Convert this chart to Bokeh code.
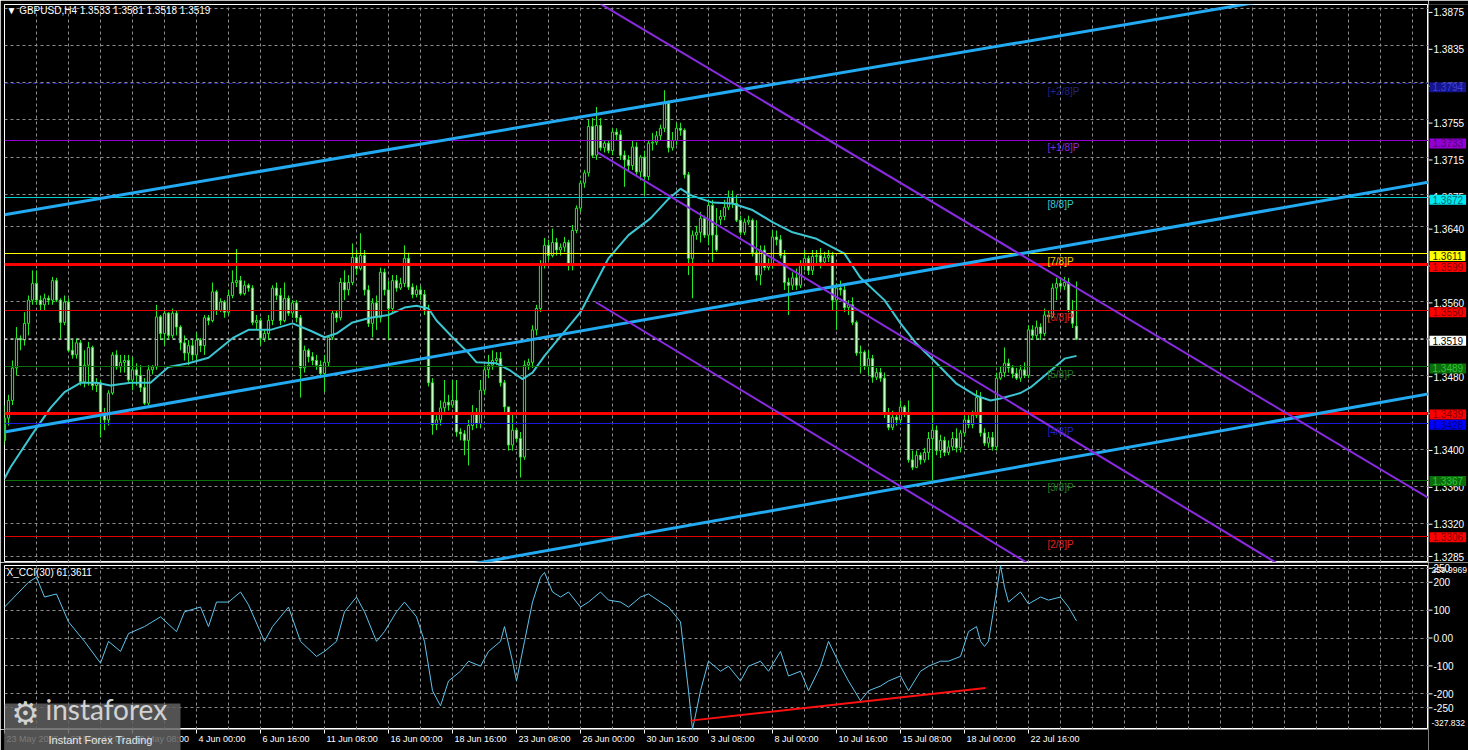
from bokeh.plotting import figure
from bokeh.layouts import column, row
from bokeh.models import Range1d, FixedTicker, Label, ColumnDataSource, Grid, BoxAnnotation
from bokeh.embed import file_html
from bokeh.resources import INLINE
from bokeh.core.properties import value

# ---------------- data ----------------
symbol_title = "\u25bc GBPUSD,H4  1.3533 1.3581 1.3518 1.3519"
cci_title = "X_CCI(30) 61.3611"

opens = [
 1.3410, 1.3434, 1.3453, 1.3488, 1.3520, 1.3518, 1.3536, 1.3561, 1.3579, 1.3561,
 1.3556, 1.3563, 1.3561, 1.3582, 1.3561, 1.3537, 1.3559, 1.3507, 1.3502, 1.3515,
 1.3473, 1.3491, 1.3510, 1.3469, 1.3472, 1.3439, 1.3432, 1.3461, 1.3502, 1.3489,
 1.3494, 1.3496, 1.3475, 1.3486, 1.3480, 1.3467, 1.3450, 1.3486, 1.3489, 1.3543,
 1.3525, 1.3547, 1.3523, 1.3547, 1.3532, 1.3515, 1.3504, 1.3512, 1.3502, 1.3518,
 1.3512, 1.3542, 1.3539, 1.3570, 1.3550, 1.3559, 1.3548, 1.3566, 1.3580, 1.3582,
 1.3568, 1.3577, 1.3574, 1.3537, 1.3539, 1.3520, 1.3525, 1.3539, 1.3574, 1.3566,
 1.3539, 1.3563, 1.3547, 1.3558, 1.3542, 1.3488, 1.3507, 1.3500, 1.3496, 1.3491,
 1.3482, 1.3494, 1.3521, 1.3547, 1.3542, 1.3580, 1.3572, 1.3580, 1.3607, 1.3595,
 1.3609, 1.3572, 1.3536, 1.3558, 1.3542, 1.3591, 1.3572, 1.3552, 1.3582, 1.3574,
 1.3579, 1.3606, 1.3575, 1.3567, 1.3572, 1.3567, 1.3550, 1.3472, 1.3427, 1.3432,
 1.3445, 1.3451, 1.3448, 1.3453, 1.3419, 1.3417, 1.3410, 1.3426, 1.3440, 1.3428,
 1.3464, 1.3486, 1.3491, 1.3496, 1.3498, 1.3472, 1.3446, 1.3405, 1.3421, 1.3412,
 1.3392, 1.3491, 1.3494, 1.3529, 1.3552, 1.3599, 1.3620, 1.3609, 1.3623, 1.3615,
 1.3618, 1.3623, 1.3598, 1.3636, 1.3660, 1.3687, 1.3698, 1.3748, 1.3717, 1.3749,
 1.3725, 1.3730, 1.3722, 1.3742, 1.3739, 1.3717, 1.3712, 1.3706, 1.3726, 1.3699,
 1.3715, 1.3694, 1.3730, 1.3731, 1.3738, 1.3746, 1.3773, 1.3725, 1.3733, 1.3746,
 1.3744, 1.3696, 1.3606, 1.3631, 1.3634, 1.3649, 1.3631, 1.3663, 1.3631, 1.3648,
 1.3651, 1.3661, 1.3672, 1.3665, 1.3647, 1.3634, 1.3645, 1.3647, 1.3612, 1.3588,
 1.3615, 1.3596, 1.3599, 1.3629, 1.3626, 1.3609, 1.3580, 1.3577, 1.3585, 1.3577,
 1.3599, 1.3606, 1.3593, 1.3608, 1.3609, 1.3602, 1.3607, 1.3609, 1.3561, 1.3574,
 1.3572, 1.3553, 1.3556, 1.3537, 1.3504, 1.3505, 1.3490, 1.3498, 1.3478, 1.3483,
 1.3477, 1.3439, 1.3424, 1.3435, 1.3432, 1.3446, 1.3440, 1.3389, 1.3381, 1.3394,
 1.3389, 1.3397, 1.3412, 1.3421, 1.3399, 1.3410, 1.3397, 1.3403, 1.3412, 1.3402,
 1.3418, 1.3432, 1.3427, 1.3437, 1.3456, 1.3418, 1.3407, 1.3413, 1.3403, 1.3477,
 1.3483, 1.3493, 1.3488, 1.3482, 1.3477, 1.3486, 1.3480, 1.3529, 1.3523, 1.3532,
 1.3525, 1.3545, 1.3543, 1.3574, 1.3579, 1.3576, 1.3580, 1.3550, 1.3533]

closes = [
 1.3434, 1.3453, 1.3488, 1.3520, 1.3518, 1.3536, 1.3561, 1.3579, 1.3561, 1.3556,
 1.3563, 1.3561, 1.3582, 1.3561, 1.3537, 1.3559, 1.3507, 1.3502, 1.3515, 1.3473,
 1.3491, 1.3510, 1.3469, 1.3472, 1.3439, 1.3432, 1.3461, 1.3502, 1.3489, 1.3494,
 1.3496, 1.3475, 1.3486, 1.3480, 1.3467, 1.3450, 1.3486, 1.3489, 1.3543, 1.3525,
 1.3547, 1.3523, 1.3547, 1.3532, 1.3515, 1.3504, 1.3512, 1.3502, 1.3518, 1.3512,
 1.3542, 1.3539, 1.3570, 1.3550, 1.3559, 1.3548, 1.3566, 1.3580, 1.3582, 1.3568,
 1.3577, 1.3574, 1.3537, 1.3539, 1.3520, 1.3525, 1.3539, 1.3574, 1.3566, 1.3539,
 1.3563, 1.3547, 1.3558, 1.3542, 1.3488, 1.3507, 1.3500, 1.3496, 1.3491, 1.3482,
 1.3494, 1.3521, 1.3547, 1.3542, 1.3580, 1.3572, 1.3580, 1.3607, 1.3595, 1.3609,
 1.3572, 1.3536, 1.3558, 1.3542, 1.3591, 1.3572, 1.3552, 1.3582, 1.3574, 1.3579,
 1.3606, 1.3575, 1.3567, 1.3572, 1.3567, 1.3550, 1.3472, 1.3427, 1.3432, 1.3445,
 1.3451, 1.3448, 1.3453, 1.3419, 1.3417, 1.3410, 1.3426, 1.3440, 1.3428, 1.3464,
 1.3486, 1.3491, 1.3496, 1.3498, 1.3472, 1.3446, 1.3405, 1.3421, 1.3412, 1.3392,
 1.3491, 1.3494, 1.3529, 1.3552, 1.3599, 1.3620, 1.3609, 1.3623, 1.3615, 1.3618,
 1.3623, 1.3598, 1.3636, 1.3660, 1.3687, 1.3698, 1.3748, 1.3717, 1.3749, 1.3725,
 1.3730, 1.3722, 1.3742, 1.3739, 1.3717, 1.3712, 1.3706, 1.3726, 1.3699, 1.3715,
 1.3694, 1.3730, 1.3731, 1.3738, 1.3746, 1.3773, 1.3725, 1.3733, 1.3746, 1.3744,
 1.3696, 1.3606, 1.3631, 1.3634, 1.3649, 1.3631, 1.3663, 1.3631, 1.3615, 1.3651,
 1.3661, 1.3672, 1.3665, 1.3647, 1.3634, 1.3645, 1.3647, 1.3612, 1.3588, 1.3615,
 1.3596, 1.3599, 1.3629, 1.3626, 1.3609, 1.3580, 1.3577, 1.3585, 1.3577, 1.3599,
 1.3606, 1.3593, 1.3608, 1.3609, 1.3602, 1.3607, 1.3609, 1.3561, 1.3574, 1.3572,
 1.3553, 1.3556, 1.3537, 1.3504, 1.3505, 1.3490, 1.3498, 1.3478, 1.3483, 1.3477,
 1.3439, 1.3424, 1.3435, 1.3432, 1.3446, 1.3440, 1.3389, 1.3381, 1.3394, 1.3389,
 1.3397, 1.3412, 1.3421, 1.3399, 1.3410, 1.3397, 1.3403, 1.3412, 1.3402, 1.3418,
 1.3432, 1.3427, 1.3437, 1.3456, 1.3418, 1.3407, 1.3413, 1.3403, 1.3477, 1.3483,
 1.3493, 1.3488, 1.3482, 1.3477, 1.3486, 1.3480, 1.3529, 1.3523, 1.3532, 1.3525,
 1.3545, 1.3543, 1.3574, 1.3579, 1.3576, 1.3580, 1.3550, 1.3536, 1.3519]

highs = [
 1.3448, 1.3459, 1.3496, 1.3532, 1.3523, 1.3548, 1.3566, 1.3593, 1.3593, 1.3566,
 1.3568, 1.3566, 1.3586, 1.3585, 1.3563, 1.3566, 1.3563, 1.3518, 1.3520, 1.3518,
 1.3507, 1.3516, 1.3512, 1.3477, 1.3475, 1.3445, 1.3464, 1.3505, 1.3507, 1.3502,
 1.3502, 1.3502, 1.3500, 1.3493, 1.3491, 1.3477, 1.3491, 1.3491, 1.3556, 1.3545,
 1.3550, 1.3548, 1.3552, 1.3550, 1.3534, 1.3523, 1.3518, 1.3518, 1.3526, 1.3520,
 1.3545, 1.3545, 1.3580, 1.3572, 1.3563, 1.3561, 1.3572, 1.3593, 1.3616, 1.3587,
 1.3582, 1.3579, 1.3577, 1.3545, 1.3542, 1.3529, 1.3545, 1.3577, 1.3580, 1.3574,
 1.3580, 1.3566, 1.3561, 1.3561, 1.3545, 1.3512, 1.3509, 1.3505, 1.3502, 1.3496,
 1.3502, 1.3523, 1.3550, 1.3550, 1.3585, 1.3593, 1.3588, 1.3622, 1.3615, 1.3633,
 1.3615, 1.3577, 1.3563, 1.3566, 1.3596, 1.3595, 1.3582, 1.3588, 1.3588, 1.3585,
 1.3620, 1.3612, 1.3579, 1.3577, 1.3576, 1.3572, 1.3556, 1.3477, 1.3437, 1.3453,
 1.3475, 1.3459, 1.3475, 1.3475, 1.3423, 1.3421, 1.3432, 1.3448, 1.3445, 1.3475,
 1.3491, 1.3502, 1.3507, 1.3505, 1.3505, 1.3475, 1.3439, 1.3439, 1.3423, 1.3419,
 1.3496, 1.3498, 1.3534, 1.3556, 1.3604, 1.3628, 1.3626, 1.3638, 1.3628, 1.3622,
 1.3629, 1.3626, 1.3642, 1.3663, 1.3690, 1.3701, 1.3755, 1.3757, 1.3769, 1.3757,
 1.3733, 1.3733, 1.3746, 1.3746, 1.3744, 1.3722, 1.3717, 1.3733, 1.3731, 1.3717,
 1.3722, 1.3733, 1.3741, 1.3743, 1.3750, 1.3787, 1.3776, 1.3742, 1.3752, 1.3752,
 1.3746, 1.3699, 1.3636, 1.3641, 1.3656, 1.3652, 1.3669, 1.3669, 1.3660, 1.3658,
 1.3669, 1.3679, 1.3679, 1.3674, 1.3652, 1.3649, 1.3652, 1.3649, 1.3647, 1.3620,
 1.3620, 1.3606, 1.3636, 1.3636, 1.3631, 1.3615, 1.3585, 1.3591, 1.3595, 1.3604,
 1.3615, 1.3609, 1.3615, 1.3615, 1.3617, 1.3613, 1.3615, 1.3613, 1.3579, 1.3582,
 1.3577, 1.3561, 1.3564, 1.3539, 1.3512, 1.3507, 1.3507, 1.3502, 1.3488, 1.3488,
 1.3483, 1.3445, 1.3442, 1.3440, 1.3453, 1.3448, 1.3453, 1.3399, 1.3399, 1.3397,
 1.3402, 1.3419, 1.3488, 1.3426, 1.3416, 1.3414, 1.3410, 1.3419, 1.3423, 1.3421,
 1.3437, 1.3437, 1.3442, 1.3464, 1.3462, 1.3423, 1.3419, 1.3419, 1.3483, 1.3489,
 1.3510, 1.3498, 1.3491, 1.3488, 1.3491, 1.3494, 1.3534, 1.3534, 1.3539, 1.3536,
 1.3552, 1.3550, 1.3579, 1.3585, 1.3586, 1.3586, 1.3585, 1.3561, 1.3581]

lows = [
 1.3405, 1.3426, 1.3448, 1.3480, 1.3507, 1.3512, 1.3523, 1.3556, 1.3556, 1.3550,
 1.3550, 1.3556, 1.3556, 1.3559, 1.3520, 1.3534, 1.3505, 1.3498, 1.3498, 1.3469,
 1.3467, 1.3469, 1.3464, 1.3462, 1.3413, 1.3421, 1.3426, 1.3459, 1.3486, 1.3483,
 1.3483, 1.3473, 1.3464, 1.3469, 1.3462, 1.3448, 1.3448, 1.3481, 1.3486, 1.3518,
 1.3512, 1.3518, 1.3520, 1.3523, 1.3507, 1.3496, 1.3491, 1.3496, 1.3496, 1.3505,
 1.3502, 1.3534, 1.3537, 1.3545, 1.3548, 1.3542, 1.3545, 1.3563, 1.3575, 1.3566,
 1.3566, 1.3570, 1.3534, 1.3529, 1.3512, 1.3516, 1.3518, 1.3534, 1.3561, 1.3534,
 1.3537, 1.3544, 1.3542, 1.3537, 1.3456, 1.3483, 1.3494, 1.3491, 1.3486, 1.3477,
 1.3462, 1.3489, 1.3518, 1.3537, 1.3539, 1.3561, 1.3566, 1.3577, 1.3588, 1.3593,
 1.3566, 1.3532, 1.3521, 1.3529, 1.3537, 1.3566, 1.3518, 1.3548, 1.3570, 1.3572,
 1.3575, 1.3572, 1.3563, 1.3564, 1.3561, 1.3545, 1.3468, 1.3416, 1.3421, 1.3426,
 1.3440, 1.3442, 1.3445, 1.3414, 1.3410, 1.3394, 1.3383, 1.3421, 1.3423, 1.3423,
 1.3459, 1.3477, 1.3486, 1.3491, 1.3468, 1.3440, 1.3399, 1.3399, 1.3408, 1.3370,
 1.3389, 1.3486, 1.3488, 1.3523, 1.3548, 1.3595, 1.3604, 1.3607, 1.3609, 1.3609,
 1.3613, 1.3593, 1.3593, 1.3633, 1.3656, 1.3682, 1.3694, 1.3714, 1.3712, 1.3722,
 1.3720, 1.3719, 1.3717, 1.3733, 1.3712, 1.3683, 1.3699, 1.3701, 1.3696, 1.3690,
 1.3674, 1.3690, 1.3722, 1.3728, 1.3733, 1.3742, 1.3720, 1.3722, 1.3728, 1.3738,
 1.3692, 1.3588, 1.3563, 1.3626, 1.3623, 1.3628, 1.3620, 1.3602, 1.3613, 1.3642,
 1.3647, 1.3658, 1.3660, 1.3645, 1.3631, 1.3631, 1.3642, 1.3608, 1.3582, 1.3577,
 1.3593, 1.3593, 1.3595, 1.3620, 1.3606, 1.3572, 1.3545, 1.3572, 1.3572, 1.3574,
 1.3593, 1.3588, 1.3588, 1.3599, 1.3595, 1.3599, 1.3602, 1.3550, 1.3529, 1.3566,
 1.3548, 1.3545, 1.3534, 1.3501, 1.3482, 1.3486, 1.3480, 1.3472, 1.3475, 1.3473,
 1.3434, 1.3421, 1.3421, 1.3426, 1.3427, 1.3435, 1.3386, 1.3378, 1.3380, 1.3384,
 1.3386, 1.3389, 1.3367, 1.3394, 1.3391, 1.3393, 1.3394, 1.3399, 1.3397, 1.3397,
 1.3414, 1.3423, 1.3423, 1.3434, 1.3414, 1.3404, 1.3402, 1.3399, 1.3399, 1.3475,
 1.3478, 1.3483, 1.3477, 1.3475, 1.3473, 1.3477, 1.3477, 1.3518, 1.3518, 1.3518,
 1.3522, 1.3537, 1.3542, 1.3561, 1.3572, 1.3572, 1.3548, 1.3531, 1.3518]

# moving average (bar index, price)
ma_index = [0, 1.5, 7, 11.5, 15, 19, 23, 26.5, 31.5, 36.5, 41, 46, 51, 57, 61, 66.5, 72, 76.5, 80, 83,
            87, 91.5, 96, 100, 103, 106, 108, 112, 116, 118, 123, 126.5, 129.5, 132, 135, 144, 151, 156,
            161.5, 166, 169, 171.5, 177, 182, 187, 192, 197, 203, 210, 214, 220, 224, 228, 233, 238, 243,
            246.5, 249, 254, 256.5, 261.5, 265, 268]
ma_value = [1.3369, 1.3381, 1.3417, 1.3445, 1.3462, 1.3472, 1.3472, 1.3469, 1.3472, 1.3472,
            1.3489, 1.3493, 1.3499, 1.3520, 1.3529, 1.3529, 1.3536, 1.3528, 1.3521, 1.3525,
            1.3537, 1.3542, 1.3545, 1.3553, 1.3555, 1.3552, 1.3539, 1.3521, 1.3504, 1.3494,
            1.3493, 1.3485, 1.3476, 1.3483, 1.3501, 1.3548, 1.3606, 1.3631, 1.3649, 1.3670,
            1.3681, 1.3674, 1.3666, 1.3665, 1.3658, 1.3645, 1.3634, 1.3627, 1.3611, 1.3585,
            1.3561, 1.3536, 1.3514, 1.3493, 1.3471, 1.3458, 1.3453, 1.3455, 1.3461, 1.3467,
            1.3485, 1.3498, 1.3501]

# CCI(30) (bar index, value)
cci_index = [0, 6, 8, 10, 13, 16, 20, 24, 26, 29, 31, 35, 39, 43, 45, 49, 51, 53, 56, 59,
             61, 65, 67, 69, 71, 74, 78, 80, 83, 85, 88, 90, 93, 95, 98, 100, 103, 105, 107, 109,
             111, 114, 116, 119, 121, 124, 125, 127, 128, 130, 132, 134, 135, 137, 139, 141, 144, 146, 149, 151,
             154, 156, 159, 161, 164, 166, 169, 171, 172, 174, 176, 179, 181, 184, 186, 189, 191, 194, 196, 199,
             201, 204, 206, 209, 211, 214, 216, 219, 221, 224, 226, 229, 231, 234, 236, 239, 241, 243, 244, 245,
             246, 248, 249, 250, 251, 254, 256, 259, 261, 264, 266, 268]
cci_value = [111, 200, 218, 147, 158, 58, -12, -90, -12, -48, 16, 41, 76, 23, 94, 111, 41, 129, 129, 165,
             119, -12, 41, 76, 111, -12, -66, -48, -12, 94, 147, 94, -12, 23, 94, 129, 76, -12, -189, -243,
             -154, -119, -83, -101, -48, -12, 41, -83, -154, -12, 129, 218, 235, 165, 147, 165, 111, 129, 165, 136,
             129, 111, 147, 158, 129, 111, 58, -189, -327.8, -189, -83, -119, -101, -154, -101, -83, -119, -48, -136, -119,
             -189, -101, -12, -101, -154, -225, -189, -172, -154, -136, -189, -119, -101, -83, -83, -66, 23, 41, -12, -30,
             -12, 165, 260, 182, 129, 165, 122, 147, 136, 147, 111, 61.36]
cci_trend_index = [171.5, 245.25]
cci_trend_value = [-296.0, -179.0]

date_bars = [0, 16, 32, 48, 64, 80, 96, 112, 128, 144, 160, 176, 192, 208, 224, 240, 256]
date_labels = ["23 May 2025", "27 May 16:00", "30 May 08:00", "4 Jun 00:00", "6 Jun 16:00",
               "11 Jun 08:00", "16 Jun 00:00", "18 Jun 16:00", "23 Jun 08:00", "26 Jun 00:00",
               "30 Jun 16:00", "3 Jul 08:00", "8 Jul 00:00", "10 Jul 16:00", "15 Jul 08:00",
               "18 Jul 00:00", "22 Jul 16:00"]

price_ticks = [1.3875, 1.3835, 1.3795, 1.3755, 1.3715, 1.3675, 1.3640, 1.3600, 1.3560,
               1.3520, 1.3480, 1.3440, 1.3400, 1.3360, 1.3320, 1.3285]
cci_ticks = [250, 200, 100, 0, -100, -200, -250]
cci_tick_labels = ["250", "200", "100", "0.00", "-100", "-200", "-250"]
cci_max, cci_min = 259.9969, -327.832

murrey_levels = [1.3794, 1.3733, 1.3672, 1.3611, 1.3550, 1.3489, 1.3428, 1.3367, 1.3306]
murrey_tags = ["[+2/8]P", "[+1/8]P", "[8/8]P", "[7/8]P", "[6/8]P", "[5/8]P", "[4/8]P", "[3/8]P", "[2/8]P"]
key_levels = [1.3599, 1.3439]
bid_price = 1.3519

blue_x0 = [0, 0, 100]
blue_y0 = [1.3653, 1.3419, 1.3264]
blue_x1 = [356, 356, 356]
blue_y1 = [1.3913, 1.3688, 1.3460]

purple_x0 = [149, 148.25, 147.75]
purple_y0 = [1.3880, 1.3720, 1.3559]
purple_x1 = [356, 356, 356]
purple_y1 = [1.3348, 1.3179, 1.3017]

# ---------------- styles ----------------
FONT = "Liberation Sans"
GREEN = "#26ea26"
GRID = "#8c8c8c"
murrey_line_colors = ["#2323a8", "#9400d3", "#00ced1", "#ffff00", "#e00000", "#0a6e0a", "#1818e0", "#0a6e0a", "#e00000"]
murrey_tag_colors = ["#22228e", "#8a2be2", "#38c6d6", "#f0d000", "#e02020", "#1f7a1f", "#2020c8", "#1f7a1f", "#e02020"]
box_specs = {  # price -> (background, text colour)
    1.3794: ("#16168c", "#4040d8"), 1.3733: ("#9400d3", "#4e0077"), 1.3672: ("#00e8f0", "#006a72"),
    1.3611: ("#ffff00", "#202000"), 1.3599: ("#ff0000", "#800000"), 1.3550: ("#ff0000", "#800000"),
    1.3519: ("#ffffff", "#000000"), 1.3489: ("#0a6e0a", "#33c433"), 1.3439: ("#ff0000", "#800000"),
    1.3428: ("#0000ff", "#00007a"), 1.3367: ("#0a6e0a", "#33c433"), 1.3306: ("#ff0000", "#800000"),
}

n = min(len(opens), len(highs), len(lows), len(closes))
bars = list(range(n))


def panel(width, height, xr, yr):
    f = figure(width=width, height=height, x_range=xr, y_range=yr,
               x_axis_location=None, y_axis_location=None,
               output_backend="svg", toolbar_location=None,
               background_fill_color="black", border_fill_color="black",
               outline_line_color=None)
    f.min_border_left = 0
    f.min_border_right = 0
    f.min_border_top = 0
    f.min_border_bottom = 0
    f.xgrid.visible = False
    f.ygrid.visible = False
    return f


PX_MAIN = (1.38793 - 1.32785) / 558.0          # price per pixel of the main pane
PX_CCI = (cci_max - cci_min) / 164.0            # CCI units per pixel of the lower pane

xr = Range1d(0, 356)
yr_main = Range1d(1.32785, 1.38793)
yr_cci = Range1d(cci_min, cci_max)
xr_side = Range1d(0, 40)
# side scales cover the pane plus its top border so edge labels are not clipped
yr_main_side = Range1d(1.32785, 1.38793 + 4 * PX_MAIN)
yr_cci_side = Range1d(cci_min - 21 * PX_CCI, cci_max + 3 * PX_CCI)

# ---------------- main price panel ----------------
p = panel(1428, 562, xr, yr_main)
p.min_border_left = 4
p.min_border_top = 4
p.outline_line_color = "white"
p.add_layout(Grid(dimension=0, ticker=FixedTicker(ticks=list(range(0, 360, 8))),
                  grid_line_color=GRID, grid_line_dash="3 3"))
p.add_layout(Grid(dimension=1, ticker=FixedTicker(ticks=price_ticks),
                  grid_line_color=GRID, grid_line_dash="3 3"))

src = ColumnDataSource(dict(
    x=bars, h=highs[:n], l=lows[:n],
    top=[max(a, b) for a, b in zip(opens[:n], closes[:n])],
    bottom=[min(a, b) for a, b in zip(opens[:n], closes[:n])],
    fill=["black" if c >= o else "#c4ffc4" for o, c in zip(opens[:n], closes[:n])]))
p.segment(x0="x", y0="l", x1="x", y1="h", source=src, line_color=GREEN, line_width=1)
p.vbar(x="x", top="top", bottom="bottom", width=0.55, fill_color="fill",
       line_color=GREEN, line_width=1, source=src)

p.line(ma_index, ma_value, line_color="#3cc6d2", line_width=2)

for lvl, col in zip(murrey_levels, murrey_line_colors):
    dash = "4 3" if lvl == murrey_levels[0] else "solid"
    p.hspan(y=[lvl], line_color=col, line_width=1, line_dash=dash)
p.hspan(y=[bid_price], line_color="#b4b4b4", line_width=1, line_dash="3 3")
p.hspan(y=key_levels, line_color="#ff0000", line_width=3)

p.segment(x0=blue_x0, y0=blue_y0, x1=blue_x1, y1=blue_y1, line_color="#22aaf2", line_width=3)
p.segment(x0=purple_x0, y0=purple_y0, x1=purple_x1, y1=purple_y1, line_color="#8a2be2", line_width=2)

tag_src = ColumnDataSource(dict(x=[260.75] * len(murrey_levels), y=murrey_levels,
                                t=murrey_tags, c=murrey_tag_colors))
p.text(x="x", y="y", text="t", text_color="c", source=tag_src, text_font=value(FONT),
       text_font_size="10px", text_baseline="top", text_align="left", y_offset=2)

p.add_layout(Label(x=0.5, y=yr_main.end, text=symbol_title, text_color="white",
                   text_font=FONT, text_font_size="10px", text_baseline="top"))

# right price scale (own column, same price-per-pixel as the pane)
pr = panel(40, 562, xr_side, yr_main_side)
pr.segment(x0=[0] * len(price_ticks), y0=price_ticks, x1=[4] * len(price_ticks), y1=price_ticks,
           line_color="white", line_width=1)
pr.text(x=[5] * len(price_ticks), y=price_ticks, text=[f"{t:.4f}" for t in price_ticks],
        text_color="white", text_font=value(FONT), text_font_size="10px",
        text_baseline="middle", text_align="left")
for lvl in sorted(box_specs.keys(), reverse=True):
    bg, fg = box_specs[lvl]
    pr.add_layout(Label(x=1, y=lvl, text=f"{lvl:.4f}", text_color=fg,
                        text_font=FONT, text_font_size="10px", text_baseline="middle",
                        text_align="left", background_fill_color=bg,
                        padding=dict(left=3, right=3, top=1, bottom=1)))

# ---------------- CCI panel ----------------
q = panel(1428, 167, xr, yr_cci)
q.min_border_left = 4
q.min_border_top = 3
q.outline_line_color = "white"
q.add_layout(Grid(dimension=0, ticker=FixedTicker(ticks=list(range(0, 360, 8))),
                  grid_line_color=GRID, grid_line_dash="3 3"))
q.add_layout(Grid(dimension=1, ticker=FixedTicker(ticks=cci_ticks),
                  grid_line_color=GRID, grid_line_dash="3 3"))
m = min(len(cci_index), len(cci_value))
q.line(cci_index[:m], cci_value[:m], line_color="#5ec4ee", line_width=1)
q.line(cci_trend_index, cci_trend_value, line_color="#ff1010", line_width=2)
q.add_layout(Label(x=0.5, y=cci_max, y_offset=-1, text=cci_title, text_color="white",
                   text_font=FONT, text_font_size="10px", text_baseline="top"))

# right CCI scale spans the CCI pane and the time strip
qr = panel(40, 188, xr_side, yr_cci_side)
qr.segment(x0=[0] * len(cci_ticks), y0=cci_ticks, x1=[4] * len(cci_ticks), y1=cci_ticks,
           line_color="white", line_width=1)
qr.text(x=[5] * len(cci_ticks), y=cci_ticks, text=cci_tick_labels, text_color="white",
        text_font=value(FONT), text_font_size="10px", text_baseline="middle", text_align="left")
qr.text(x=[3, 3], y=[cci_max, cci_min], text=[f"{cci_max:.4f}", f"{cci_min:.3f}"],
        text_color="white", text_font=value(FONT), text_font_size="8.5px",
        text_baseline="middle", text_align="left", y_offset=[4, -7])

# ---------------- time strip ----------------
s = panel(1428, 21, xr, Range1d(21, 0))
s.min_border_left = 4
s.segment(x0=date_bars, y0=[0] * len(date_bars), x1=date_bars, y1=[4] * len(date_bars),
          line_color="white", line_width=1)
s.text(x=date_bars, y=[9] * len(date_bars), text=date_labels, x_offset=2,
       text_color="white", text_font=value(FONT), text_font_size="9px",
       text_baseline="middle", text_align="left")

# ---------------- watermark (box spans the CCI pane and the time strip) ----------------
WM_BG = "#606060"
q.add_layout(BoxAnnotation(right=44, top=cci_min + 26 * PX_CCI, fill_color=WM_BG,
                           fill_alpha=0.85, line_color=None))
s.add_layout(BoxAnnotation(right=44, fill_color=WM_BG, fill_alpha=0.85, line_color=None))
q.add_layout(Label(x=10.25, y=cci_min + 4 * PX_CCI, text="instaforex", text_color="#d2d2d2",
                   text_font="Lato", text_font_size="28px", text_baseline="bottom"))
q.add_layout(Label(x=5.25, y=cci_min + 17 * PX_CCI, text="\u2699", text_color="#d2d2d2",
                   text_font="DejaVu Sans", text_font_size="31px",
                   text_baseline="middle", text_align="center"))
s.add_layout(Label(x=11, y=10, text="Instant Forex Trading", text_color="#e6e6e6",
                   text_font=FONT, text_font_size="11px", text_baseline="middle"))

layout = column(row(p, pr), row(column(q, s), qr), styles={"box-shadow": "0 0 0 40px black"})
open("out.html", "w").write(file_html(layout, INLINE))
